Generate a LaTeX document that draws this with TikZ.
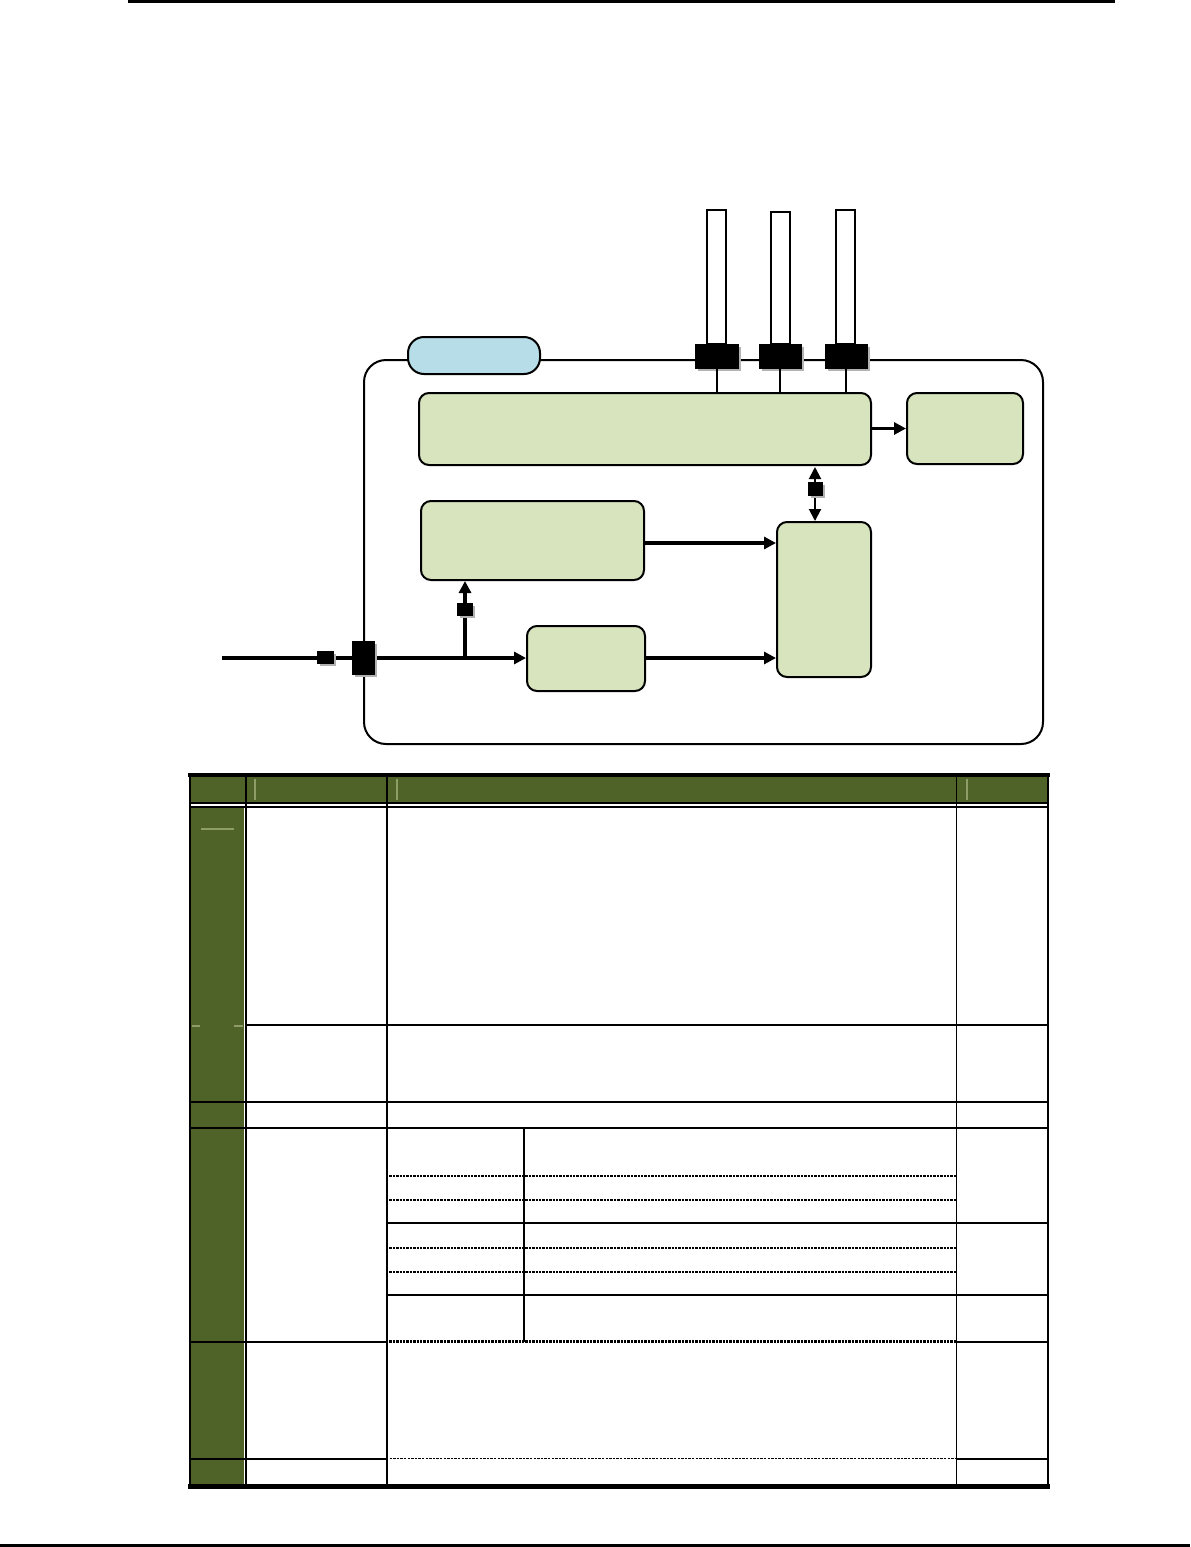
\documentclass[tikz,border=0pt]{standalone}
\usetikzlibrary{arrows.meta,fit,shadows}
\definecolor{boxgreen}{HTML}{D7E4BD}
\definecolor{pillblue}{HTML}{B7DDE8}
\definecolor{hdrgreen}{HTML}{4F6228}
\definecolor{lightgr}{HTML}{8E9D68}
\begin{document}
\begin{tikzpicture}[x=0.5pt,y=-0.5pt,
  gbox/.style={draw=black, fill=boxgreen, rounded corners=5pt, line width=1pt, inner sep=0pt},
  pill/.style={draw=black, fill=pillblue, rounded corners=8pt, line width=1pt, inner sep=0pt},
  frame/.style={draw=black, rounded corners=11pt, line width=1pt, inner sep=0pt},
  port/.style={fill=black, draw=black, inner sep=0pt, line width=0.4pt,
     drop shadow={shadow xshift=1.6pt, shadow yshift=-1.6pt, fill=black!30, opacity=1}},
  tube/.style={draw=black, fill=white, line width=1pt, inner sep=0pt},
  arr/.style={line width=1.8pt, -{Triangle[length=6pt,width=6pt]}},
  darr/.style={line width=1pt, {Triangle[length=6pt,width=6pt]}-{Triangle[length=6pt,width=6pt]}},
  thinln/.style={line width=1pt},
  tline/.style={line width=1pt},
  tdash/.style={line width=1.1pt, dash pattern=on 1.2pt off 0.5pt},
  tdashthin/.style={line width=0.6pt, dash pattern=on 1.2pt off 0.6pt},
  lightln/.style={draw=lightgr, line width=0.6pt}
]
\useasboundingbox (0,0) rectangle (1190,1547);
% page rules
\fill[black] (128,0) rectangle (1115,2.5);
\fill[black] (0,1543.5) rectangle (1190,1547);

% ---------- diagram ----------
\node[frame, fit={(364,360) (1043,744)}] (outer) {};
\node[pill, fit={(408,337) (540,374)}] (pillbox) {};

% tubes above ports
\node[tube, fit={(707,210) (726,344)}] (t1) {};
\node[tube, fit={(771,212) (790,344)}] (t2) {};
\node[tube, fit={(836,210) (855,344)}] (t3) {};

% ports on top edge
\node[port, fit={(695,344) (738,368)}] (p1) {};
\node[port, fit={(759,344) (801,368)}] (p2) {};
\node[port, fit={(825,344) (867,368)}] (p3) {};

% boxes
\node[gbox, fit={(419,393) (871,465)}] (top) {};
\node[gbox, fit={(907,393) (1023,464)}] (right) {};
\node[gbox, fit={(421,501) (644,580)}] (mid) {};
\node[gbox, fit={(777,522) (871,677)}] (tall) {};
\node[gbox, fit={(527,626) (645,691)}] (small) {};

% port links
\draw[thinln] (p1.south) -- (p1.south |- top.north);
\draw[thinln] (p2.south) -- (p2.south |- top.north);
\draw[thinln] (p3.south) -- (p3.south |- top.north);

% arrows
\draw[arr] (top.east |- right.west) -- (right.west);
\draw[arr] (mid.east |- 0,543) -- (tall.west |- 0,543);
\draw[arr] (small.east |- 0,658) -- (tall.west |- 0,658);

% double arrow with marker
\coordinate (dtop) at (815,467);
\draw[darr] (dtop) -- (dtop |- tall.north);
\node[port, fit={(808,482) (822,495)}] (dsq) {};

% input line
\coordinate (in) at (222,658);
\coordinate (br) at (465,658);
\draw[arr] (in) -- (small.west |- in);
\node[port, fit={(317,651) (333,663)}] (insq) {};
\node[port, fit={(352,641) (374,674)}] (inpin) {};
\draw[arr] (br) -- (br |- mid.south);
\node[port, fit={(457,603) (472,615)}] (brsq) {};

% ---------- table ----------
\fill[hdrgreen] (190,777) rectangle (1048,803);
\fill[hdrgreen] (190,806) rectangle (244,1486);
% header light marks
\draw[lightln] (255,779) -- (255,800);
\draw[lightln] (397,779) -- (397,800);
\draw[lightln] (967,779) -- (967,800);
\draw[lightln] (201,829) -- (234,829);
\draw[lightln] (192,1026) -- (200,1026);
\draw[lightln] (234,1026) -- (243,1026);
% vertical dividers
\draw[line width=1pt] (245.5,777) -- (245.5,1486);
\draw[white, line width=0.5pt] (244,806) -- (244,1486);
\draw[tline] (386.5,777) -- (386.5,1486);
\draw[line width=0.5pt] (956.5,777) -- (956.5,1486);
\draw[tline] (523.5,1128) -- (523.5,1342);
% header double line
\draw[tline] (190,803) -- (1048,803);
\draw[tline] (190,806.5) -- (1048,806.5);
% row lines
\draw[tline] (245,1025) -- (1048,1025);
\draw[tline] (190,1102) -- (1048,1102);
\draw[tline] (190,1128) -- (1048,1128);
\draw[tdash] (386,1176) -- (956,1176);
\draw[tdash] (386,1200) -- (956,1200);
\draw[tline] (386,1223) -- (1048,1223);
\draw[tdash] (386,1248) -- (956,1248);
\draw[tdash] (386,1272) -- (956,1272);
\draw[tline] (386,1295) -- (1048,1295);
\draw[tline] (190,1342) -- (386,1342);
\draw[tdash] (386,1341.5) -- (956,1341.5);
\draw[tline] (956,1342) -- (1048,1342);
\draw[tline] (190,1459) -- (386,1459);
\draw[tdashthin] (386,1458.5) -- (956,1458.5);
\draw[tline] (956,1459) -- (1048,1459);
% outer borders
\fill[black] (188,772.5) rectangle (1050,777);
\fill[black] (188,1484) rectangle (1050,1488.5);
\draw[line width=1.1pt] (190,773) -- (190,1488);
\draw[line width=1.1pt] (1048,773) -- (1048,1488);
\end{tikzpicture}
\end{document}
